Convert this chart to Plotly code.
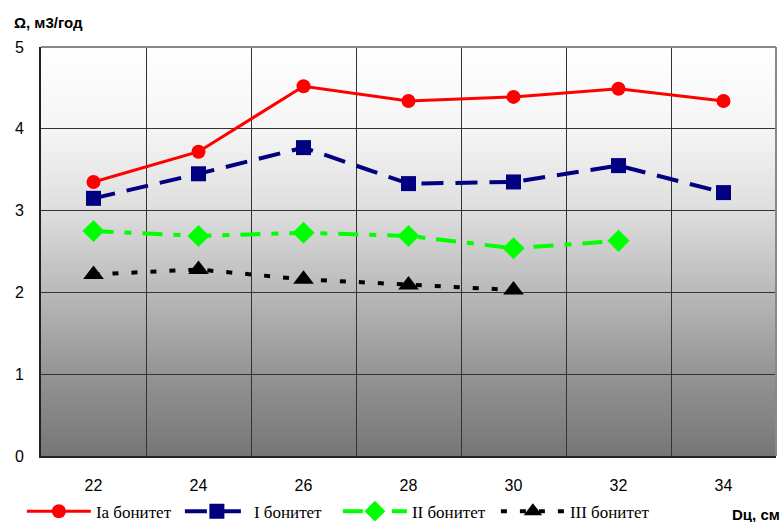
import numpy as np
import plotly.graph_objects as go

# Diameter classes (cm)
diameters = [22, 24, 26, 28, 30, 32, 34]

# Volume increment by site class, m3/year
omega_Ia = [3.35, 3.72, 4.52, 4.34, 4.39, 4.49, 4.34]
omega_I = [3.15, 3.45, 3.77, 3.33, 3.35, 3.55, 3.22]
omega_II = [2.75, 2.69, 2.73, 2.69, 2.54, 2.63]
omega_III = [2.22, 2.28, 2.16, 2.09, 2.03]

series_names = ["Iа бонитет", "I бонитет", "II бонитет", "III бонитет"]
y_ticks = [0, 1, 2, 3, 4, 5]

fig = go.Figure()

styles = [
    dict(color="#ff0000", dash="solid", width=3, symbol="circle", size=14),
    dict(color="#000080", dash="22px,12px", width=4, symbol="square", size=15),
    dict(color="#00ff00", dash="20px,11px,7px,11px", width=4, symbol="diamond", size=17),
    dict(color="#000000", dash="6px,13px", width=4, symbol="triangle-up", size=18),
]
values = [omega_Ia, omega_I, omega_II, omega_III]

for name, vals, st in zip(series_names, values, styles):
    fig.add_trace(go.Scatter(
        x=diameters[:len(vals)], y=vals, name=name, mode="lines+markers",
        line=dict(color=st["color"], dash=st["dash"], width=st["width"]),
        marker=dict(color=st["color"], symbol=st["symbol"], size=st["size"],
                    line=dict(width=0)),
    ))

# Vertical gradient background of the plotting area (white at top, grey at bottom).
# Nested rectangles, each starting at the bottom, so no seams appear between bands.
stops_v = [0, 1, 2, 3, 4, 5]
stops_c = [118, 148, 185, 222, 245, 255]
n_bands = 160
edges = np.linspace(0, 5, n_bands + 1)
shapes = []
for i in range(n_bands - 1, -1, -1):
    mid = (edges[i] + edges[i + 1]) / 2
    g = int(round(np.interp(mid, stops_v, stops_c)))
    shapes.append(dict(type="rect", xref="paper", yref="y", x0=0, x1=1,
                       y0=0, y1=edges[i + 1], layer="below",
                       fillcolor=f"rgb({g},{g},{g})", line=dict(width=0)))
# Light frame on the top and right sides
shapes.append(dict(type="line", xref="paper", yref="paper", x0=0, x1=1, y0=1, y1=1,
                   line=dict(color="#888888", width=2), layer="above"))
shapes.append(dict(type="line", xref="paper", yref="paper", x0=1, x1=1, y0=0, y1=1,
                   line=dict(color="#888888", width=2), layer="above"))

fig.update_layout(
    width=782, height=522,
    margin=dict(l=41, r=6, t=47, b=66, autoexpand=False),
    paper_bgcolor="white",
    plot_bgcolor="white",
    shapes=shapes,
    font=dict(family="Liberation Sans, Arial", size=16, color="black"),
    showlegend=True,
    legend=dict(
        orientation="h", x=-0.026, y=-0.092, xanchor="left", yanchor="top",
        font=dict(family="Liberation Serif, Times New Roman", size=17, color="black"),
        itemwidth=64, bgcolor="rgba(0,0,0,0)", tracegroupgap=0,
        entrywidth=79, entrywidthmode="pixels",
    ),
    annotations=[
        dict(text="<b>Ω, м3/год</b>", xref="paper", yref="paper", x=-0.0395, y=1.061,
             xanchor="left", yanchor="middle", showarrow=False,
             font=dict(family="Liberation Sans, Arial", size=15)),
        dict(text="<b>Dц, см</b>", xref="paper", yref="paper", x=1.008, y=-0.144,
             xanchor="right", yanchor="middle", showarrow=False,
             font=dict(family="Liberation Sans, Arial", size=15)),
    ],
)

fig.update_xaxes(
    range=[21, 35], tickvals=diameters, ticktext=[str(d) for d in diameters],
    showgrid=False, zeroline=False, showline=True, linecolor="#222222", linewidth=2,
    ticks="", ticklabelstandoff=14,
    minor=dict(tickvals=list(range(23, 35, 2)), showgrid=True,
               gridcolor="#333333", gridwidth=1, ticks=""),
)
fig.update_yaxes(
    range=[0, 5], tickvals=y_ticks, showgrid=True, gridcolor="#333333", gridwidth=1,
    zeroline=False, showline=True, linecolor="#222222", linewidth=2,
    ticks="", ticklabelstandoff=12,
)

fig.write_html("out.html")
